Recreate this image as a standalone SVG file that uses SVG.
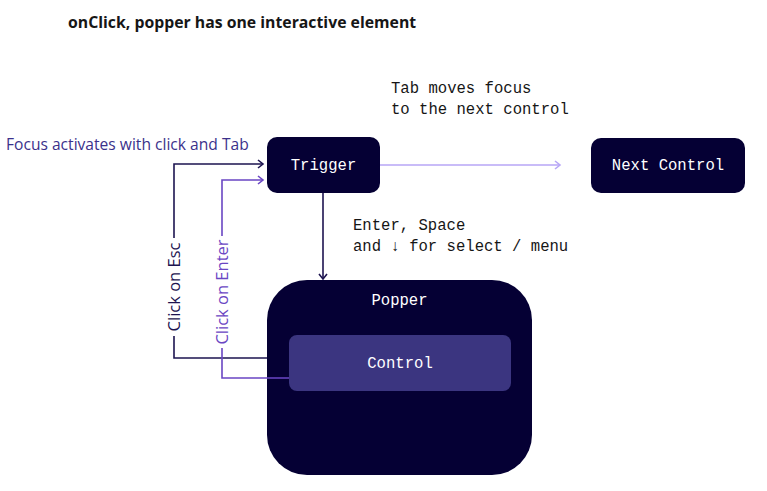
<svg xmlns="http://www.w3.org/2000/svg" width="767" height="491" viewBox="0 0 767 491">
<style>
.mono{font-family:"Liberation Mono","DejaVu Sans Mono",monospace;font-size:15.6px}
.sans{font-family:"Open Sans","Noto Sans",sans-serif}
.wt{fill:#ffffff}
.node{fill:#050034}
.line{fill:none;stroke-width:1.6}
</style>
<defs>
<marker id="aDark" markerWidth="10" markerHeight="10" refX="8" refY="5" orient="auto" markerUnits="userSpaceOnUse"><path d="M3,1 L8,5 L3,9" fill="none" stroke="#1d1450" stroke-width="1.6"/></marker>
<marker id="aPurple" markerWidth="10" markerHeight="10" refX="8" refY="5" orient="auto" markerUnits="userSpaceOnUse"><path d="M3,1 L8,5 L3,9" fill="none" stroke="#6a46c3" stroke-width="1.6"/></marker>
<marker id="aLight" markerWidth="10" markerHeight="10" refX="8" refY="5" orient="auto" markerUnits="userSpaceOnUse"><path d="M3,1 L8,5 L3,9" fill="none" stroke="#b7a6f6" stroke-width="1.6"/></marker>
</defs>
<rect width="767" height="491" fill="#ffffff"/>
<text x="68" y="28" class="sans" font-size="15.8" font-weight="700" fill="#161616">onClick, popper has one interactive element</text>
<text x="6" y="150" class="sans" font-size="15.6" fill="#3b318b">Focus activates with click and Tab</text>
<text class="mono" fill="#161616"><tspan x="391" y="93">Tab moves focus</tspan><tspan x="391" y="114">to the next control</tspan></text>
<text class="mono" fill="#161616"><tspan x="353" y="230">Enter, Space</tspan><tspan x="353" y="251">and ↓ for select / menu</tspan></text>
<g id="trigger">
<rect class="node" x="267" y="137" width="113" height="56" rx="10"/>
<text x="323.5" y="170" text-anchor="middle" class="mono wt">Trigger</text>
</g>
<g id="next-control">
<rect class="node" x="591" y="138" width="154" height="55" rx="10"/>
<text x="668" y="170" text-anchor="middle" class="mono wt">Next Control</text>
</g>
<g id="popper">
<rect class="node" x="267" y="280" width="265" height="195" rx="40"/>
<text x="399.5" y="305" text-anchor="middle" class="mono wt">Popper</text>
</g>
<g id="control">
<rect x="289" y="335" width="222" height="56" rx="8" fill="#3b3580"/>
<text x="400" y="368" text-anchor="middle" class="mono wt">Control</text>
</g>
<g id="connectors">
<path class="line" stroke="#b7a6f6" d="M380,165 H560" marker-end="url(#aLight)"/>
<path class="line" stroke="#1d1450" d="M323,193 V279" marker-end="url(#aDark)"/>
<path class="line" stroke="#1d1450" d="M267,358 H174 V336 M174,238 V164 H263" marker-end="url(#aDark)"/>
<path class="line" stroke="#6a46c3" d="M289,378 H222 V348 M222,236 V180 H263" marker-end="url(#aPurple)"/>
<text transform="translate(180,287) rotate(-90)" text-anchor="middle" class="sans" font-size="16.5" fill="#1d1450">Click on Esc</text>
<text transform="translate(228,292) rotate(-90)" text-anchor="middle" class="sans" font-size="16.5" fill="#6a46c3">Click on Enter</text>
</g>
</svg>
